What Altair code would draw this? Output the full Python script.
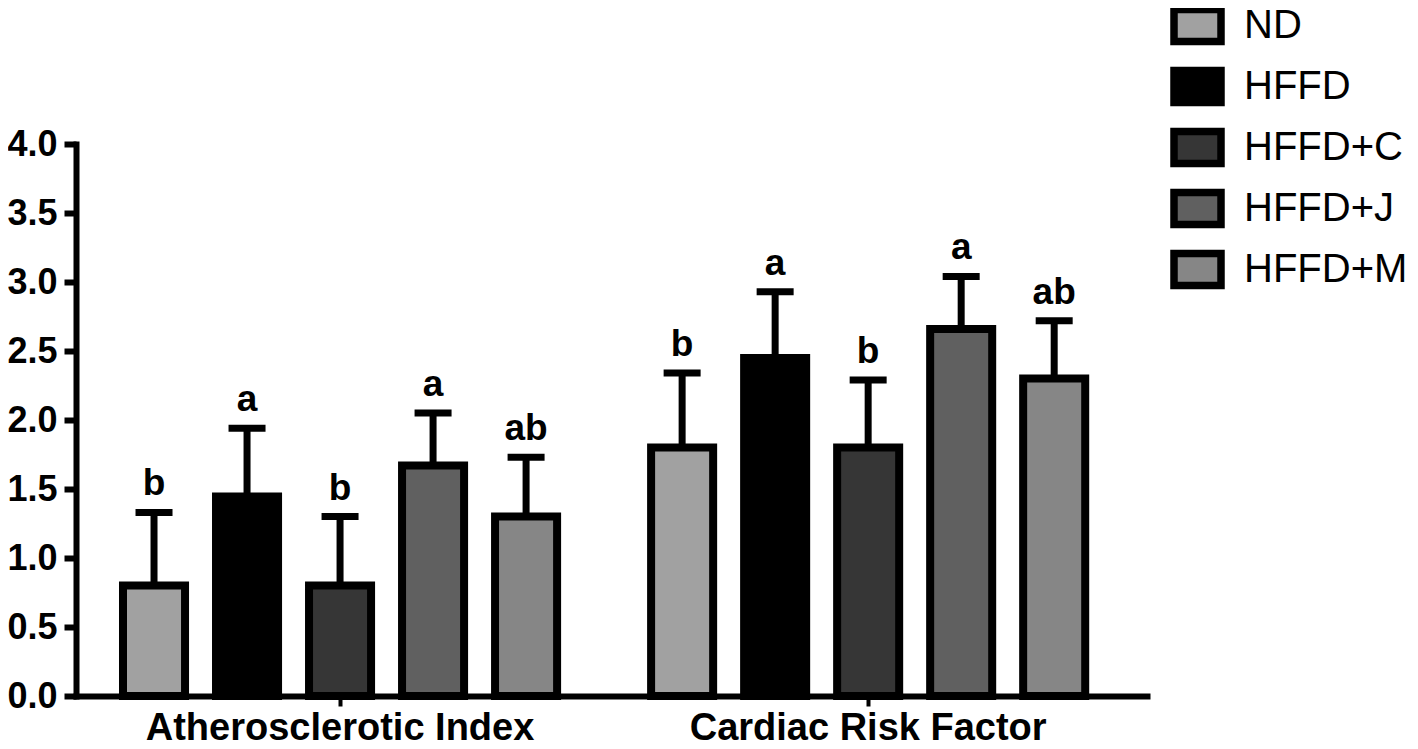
import altair as alt
import pandas as pd

groups = ["Atherosclerotic Index", "Cardiac Risk Factor"]
series = ["ND", "HFFD", "HFFD+C", "HFFD+J", "HFFD+M"]
colors = ["#a1a1a1", "#000000", "#363636", "#606060", "#868686"]

ai_mean = [0.80, 1.445, 0.80, 1.67, 1.30]
ai_upper = [1.33, 1.94, 1.30, 2.05, 1.73]
ai_letters = ["b", "a", "b", "a", "ab"]

crf_mean = [1.80, 2.45, 1.80, 2.66, 2.30]
crf_upper = [2.34, 2.93, 2.29, 3.04, 2.72]
crf_letters = ["b", "a", "b", "a", "ab"]

y_ticks = [0.0, 0.5, 1.0, 1.5, 2.0, 2.5, 3.0, 3.5, 4.0]

rows = []
for g, means, uppers, letters in [
    (groups[0], ai_mean, ai_upper, ai_letters),
    (groups[1], crf_mean, crf_upper, crf_letters),
]:
    for s, m, u, l in zip(series, means, uppers, letters):
        rows.append({"group": g, "series": s, "mean": m, "upper": u, "letter": l})
df = pd.DataFrame(rows)

FONT = "Liberation Sans"

x_axis = alt.Axis(
    title=None,
    labelAngle=0,
    labelAlign="center",
    labelBaseline="top",
    labelFontSize=38,
    labelFontWeight="bold",
    labelFont=FONT,
    labelColor="black",
    labelPadding=3,
    labelLimit=600,
    domainColor="black",
    domainWidth=6,
    domainCap="square",
    tickColor="black",
    tickWidth=4,
    tickSize=10,
    grid=False,
)
y_axis = alt.Axis(
    title=None,
    values=y_ticks,
    format=".1f",
    labelFontSize=36,
    labelFontWeight="bold",
    labelFont=FONT,
    labelColor="black",
    labelPadding=7,
    domainColor="black",
    domainWidth=6,
    domainCap="square",
    tickColor="black",
    tickWidth=6,
    tickSize=12,
    grid=False,
)

x_scale = alt.Scale(paddingInner=0.178, paddingOuter=0.103, align=0.432)
xoff_scale = alt.Scale(paddingInner=0.333, paddingOuter=0)
y_scale = alt.Scale(domain=[0, 4], nice=False)


def xe():
    return alt.X("group:N", sort=groups, scale=x_scale, axis=x_axis)


def xo():
    return alt.XOffset("series:N", sort=series, scale=xoff_scale)


rules = alt.Chart(df).mark_rule(color="black", strokeWidth=7).encode(
    x=xe(),
    xOffset=xo(),
    y=alt.Y("mean:Q", scale=y_scale, axis=y_axis),
    y2="upper:Q",
)

bars = alt.Chart(df).mark_bar(stroke="black", strokeWidth=8).encode(
    x=xe(),
    xOffset=xo(),
    y=alt.Y("mean:Q", scale=y_scale, axis=y_axis),
    fill=alt.Fill(
        "series:N",
        sort=series,
        scale=alt.Scale(domain=series, range=colors),
        legend=alt.Legend(
            title=None,
            orient="none",
            legendX=1094,
            legendY=-146,
            symbolType="M-1,-0.68L1,-0.68L1,0.68L-1,0.68Z",
            symbolSize=2209,
            symbolStrokeColor="black",
            symbolStrokeWidth=7.5,
            symbolOpacity=1,
            labelFontSize=40,
            labelFont=FONT,
            labelColor="black",
            labelLimit=400,
            labelOffset=19,
            rowPadding=-2,
            padding=0,
        ),
    ),
)

caps = alt.Chart(df).mark_tick(color="black", thickness=7, size=37, opacity=1).encode(
    x=xe(),
    xOffset=xo(),
    y=alt.Y("upper:Q", scale=y_scale, axis=y_axis),
)

letters_layer = alt.Chart(df).mark_text(
    dy=-17, baseline="alphabetic", fontSize=37, fontWeight="bold", font=FONT, color="black"
).encode(
    x=xe(),
    xOffset=xo(),
    y=alt.Y("upper:Q", scale=y_scale, axis=y_axis),
    text="letter:N",
)

chart = (
    alt.layer(rules, bars, caps, letters_layer)
    .properties(
        width=1071,
        height=552,
        autosize=alt.AutoSizeParams(type="none"),
        padding={"left": 68, "top": 136, "right": 263, "bottom": 45},
    )
    .configure_view(stroke=None)
)

chart.save("out.html", embed_options={"renderer": "svg", "actions": False})
